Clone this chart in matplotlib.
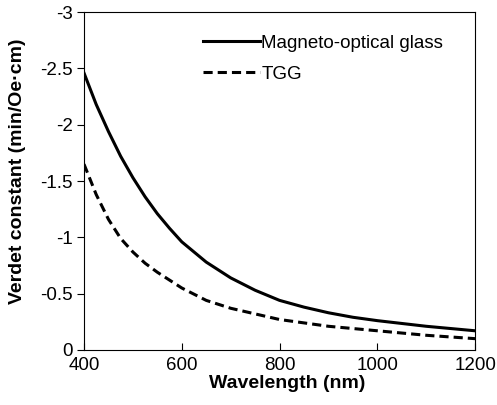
import matplotlib
matplotlib.use("Agg")
import matplotlib.pyplot as plt
from matplotlib.ticker import FuncFormatter

plt.rcParams['font.family'] = ['Liberation Sans', 'DejaVu Sans']
plt.rcParams['axes.unicode_minus'] = False

# wavelength (nm) and Verdet constant (min/Oe-cm)
wl_glass = [400, 425, 450, 475, 500, 525, 550, 575, 600, 650, 700, 750, 800, 850,
            900, 950, 1000, 1050, 1100, 1150, 1200]
v_glass = [-2.46, -2.18, -1.94, -1.72, -1.53, -1.36, -1.21, -1.08, -0.96, -0.78,
           -0.64, -0.53, -0.44, -0.38, -0.33, -0.29, -0.26, -0.235, -0.21, -0.19, -0.17]

wl_tgg = [400, 425, 450, 475, 500, 525, 550, 600, 650, 700, 750, 800, 850, 900,
          950, 1000, 1050, 1100, 1150, 1200]
v_tgg = [-1.65, -1.38, -1.16, -0.99, -0.87, -0.77, -0.69, -0.55, -0.44, -0.37,
         -0.32, -0.27, -0.24, -0.21, -0.19, -0.17, -0.15, -0.13, -0.115, -0.10]

fig = plt.figure(figsize=(4.97, 4.05), dpi=100)
ax = fig.add_axes([0.169, 0.136, 0.787, 0.834])

ax.plot(wl_glass, v_glass, color='black', lw=2.2, solid_joinstyle='round',
        label='Magneto-optical glass')
ax.plot(wl_tgg, v_tgg, color='black', lw=2.2, ls=(0, (3.0, 1.65)),
        dash_joinstyle='round', label='TGG')

ax.set_xlim(400, 1200)
ax.set_ylim(0, -3)
ax.set_xticks([400, 600, 800, 1000, 1200])
ax.set_yticks([0, -0.5, -1, -1.5, -2, -2.5, -3])
ax.yaxis.set_major_formatter(FuncFormatter(lambda v, p: '%g' % v))

ax.tick_params(axis='x', direction='in', length=5, width=0.8, labelsize=13.5, pad=5)
ax.tick_params(axis='y', direction='out', length=5, width=0.8, labelsize=13.5, pad=3)
for s in ax.spines.values():
    s.set_linewidth(0.8)

ax.set_xlabel('Wavelength (nm)', fontsize=14, fontweight='bold')
ax.set_ylabel('Verdet constant (min/Oe\u00b7cm)', fontsize=14, fontweight='bold')
ax.xaxis.set_label_coords(0.52, -0.075)
ax.yaxis.set_label_coords(-0.148, 0.53)

ax.legend(loc='upper left', frameon=False, fontsize=13.5, handlelength=3.0,
          handletextpad=0.1, borderaxespad=0, labelspacing=0.72,
          bbox_to_anchor=(0.286, 0.955))

fig.savefig('out.png', dpi=100)
